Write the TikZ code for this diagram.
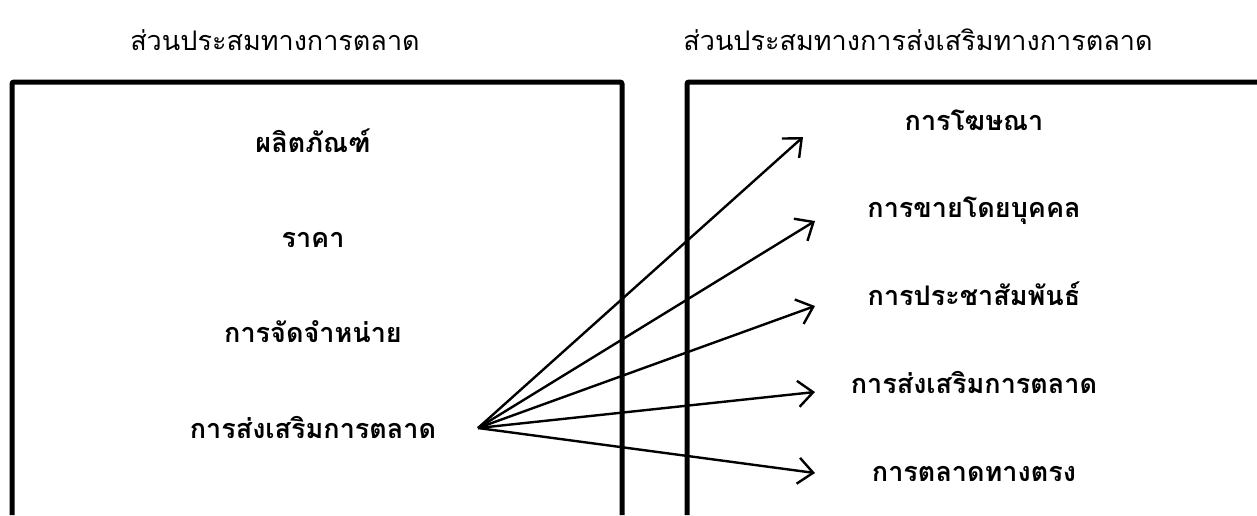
\documentclass[tikz,border=0pt]{standalone}
\usepackage{fontspec}
\newfontfamily\thaifont[Script=Thai]{Loma}
\usetikzlibrary{arrows.meta,positioning}

\begin{document}
\begin{tikzpicture}[x=1pt,y=-1pt,
    node distance=67pt,
    heading/.style={font=\thaifont\fontsize{27}{32}\selectfont,inner sep=0pt},
    item/.style={font=\thaifont\bfseries\fontsize{27}{32}\selectfont,inner sep=0pt,
      text height=20pt,text depth=8pt},
    frame/.style={line width=5pt,rounded corners=2pt},
    arrow/.style={-{Straight Barb[length=15pt,width=26pt]},line width=2.4pt}
  ]
  \useasboundingbox (0,0) rectangle (1257,515);
  % headings
  \node[heading] (mixhead) at (275,40) {ส่วนประสมทางการตลาด};
  \node[heading] (promohead) at (918,40) {ส่วนประสมทางการส่งเสริมทางการตลาด};
  % frames, open at the bottom
  \draw[frame] (12,515) -- (12,82) -- (622,82) -- (622,515);
  \draw[frame] (687,515) -- (687,82) -- (1257,82);
  % marketing mix
  \node[item] (product) at (313,146) {ผลิตภัณฑ์};
  \node[item,below=of product] (price) {ราคา};
  \node[item,below=of price] (place) {การจัดจำหน่าย};
  \node[item,below=of place] (promo) {การส่งเสริมการตลาด};
  % promotion mix
  \node[item] (advert) at (974,124) {การโฆษณา};
  \node[item,below=59.5pt of advert] (selling) {การขายโดยบุคคล};
  \node[item,below=59.5pt of selling] (pr) {การประชาสัมพันธ์};
  \node[item,below=59.5pt of pr] (salespromo) {การส่งเสริมการตลาด};
  \node[item,below=59.5pt of salespromo] (direct) {การตลาดทางตรง};
  % arrows
  \coordinate (src) at (478,428);
  \coordinate (t1) at (803,137);
  \coordinate (t2) at (815,221);
  \coordinate (t3) at (815,306);
  \coordinate (t4) at (815,392);
  \coordinate (t5) at (815,473);
  \draw[arrow] (src) -- (t1);
  \draw[arrow] (src) -- (t2);
  \draw[arrow] (src) -- (t3);
  \draw[arrow] (src) -- (t4);
  \draw[arrow] (src) -- (t5);
\end{tikzpicture}
\end{document}
